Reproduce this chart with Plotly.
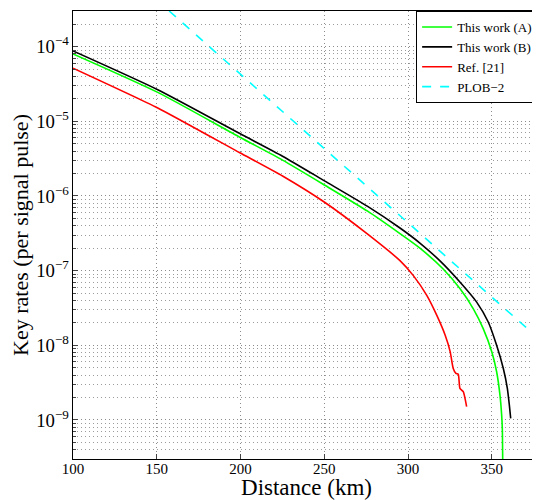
import plotly.graph_objects as go
import math

# ---- data ----
dist_a = [100, 150.6, 199.6, 225.1, 250.4, 275.9, 295.2, 307.1, 321.0, 331.1, 339.0, 344.9, 350.0, 352.9, 354.9, 355.9, 356.3, 356.6]
rate_a = [8.0e-5, 2.44e-5, 6.12e-6, 3.02e-6, 1.39e-6, 6.25e-7, 3.13e-7, 2.0e-7, 1.05e-7, 5.70e-8, 3.08e-8, 1.67e-8, 8.17e-9, 4.42e-9, 2.15e-9, 1.17e-9, 7.74e-10, 2.0e-10]

dist_b = [100, 150.6, 199.6, 225.1, 250.4, 275.9, 295.2, 307.1, 319.1, 331.1, 341.0, 347.9, 352.9, 356.9, 359.3, 360.5, 361.3]
rate_b = [8.77e-5, 2.65e-5, 6.85e-6, 3.41e-6, 1.58e-6, 7.24e-7, 3.72e-7, 2.34e-7, 1.35e-7, 7.00e-8, 3.79e-8, 2.05e-8, 1.0e-8, 4.89e-9, 2.65e-9, 1.58e-9, 1.05e-9]

dist_ref = [100, 150.6, 199.6, 225.1, 250.4, 275.9, 295.2, 303.2, 311.2, 317.2, 322.2, 325.2, 327.0, 328.6, 330.0, 331.0, 333.0, 335.0]
rate_ref = [5.15e-5, 1.51e-5, 3.79e-6, 1.85e-6, 8.17e-7, 3.08e-7, 1.36e-7, 8.57e-8, 4.65e-8, 2.51e-8, 1.36e-8, 8.17e-9, 4.89e-9, 4.2e-9, 4.1e-9, 2.65e-9, 2.39e-9, 1.51e-9]

dist_plob = [157.4, 380]
rate_plob = [3.0e-4, 1.12e-8]

x_ticks = [100, 150, 200, 250, 300, 350]

FONT = "Liberation Serif"
GRID_DASH = "1px,3px"

fig = go.Figure()
fig.add_trace(go.Scatter(x=dist_a, y=rate_a, mode="lines", name="This work (A)",
                         line=dict(color="#00ff00", width=1.6, shape="spline", smoothing=0.6)))
fig.add_trace(go.Scatter(x=dist_b, y=rate_b, mode="lines", name="This work (B)",
                         line=dict(color="#000000", width=1.6, shape="spline", smoothing=0.6)))
fig.add_trace(go.Scatter(x=dist_ref, y=rate_ref, mode="lines", name="Ref. [21]",
                         line=dict(color="#ff0000", width=1.6, shape="spline", smoothing=0.5)))
fig.add_trace(go.Scatter(x=dist_plob, y=rate_plob, mode="lines", name="PLOB\u22122",
                         line=dict(color="#00ffff", width=1.6, dash="dash")))

# the page body has an 8px margin, so the figure is drawn 8px in from the top-left
fig.update_layout(
    width=532, height=492,
    margin=dict(l=65, r=0, t=3, b=41),
    paper_bgcolor="white", plot_bgcolor="white",
    font=dict(family=FONT, color="black", size=15),
    showlegend=True,
    legend=dict(x=0.996, xanchor="right", y=1.0, yanchor="top",
                bgcolor="white", bordercolor="black", borderwidth=1,
                font=dict(family=FONT, size=13), tracegroupgap=0,
                itemwidth=30),
    xaxis=dict(
        range=[100, 378.8], tickvals=x_ticks, ticks="inside", ticklen=5,
        showline=True, linecolor="black", linewidth=1.2, mirror=True,
        showgrid=True, gridcolor="#8c8c8c", griddash=GRID_DASH, gridwidth=1,
        zeroline=False, tickfont=dict(size=15), ticklabelstandoff=-4,
        title=dict(text="Distance (km)", font=dict(size=23), standoff=0),
    ),
    yaxis=dict(
        type="log", range=[math.log10(3e-10), math.log10(3e-4)], dtick=1,
        exponentformat="power", showexponent="all",
        ticks="inside", ticklen=5,
        showline=True, linecolor="black", linewidth=1.2, mirror=True,
        showgrid=True, gridcolor="#8c8c8c", griddash=GRID_DASH, gridwidth=1,
        zeroline=False, tickfont=dict(size=15),
        minor=dict(dtick="D1", ticks="inside", ticklen=3, showgrid=True,
                   gridcolor="#9c9c9c", griddash=GRID_DASH, gridwidth=1),
        title=dict(text="Key rates (per signal pulse)", font=dict(size=22), standoff=8),
    ),
)

fig.write_html("out.html")
